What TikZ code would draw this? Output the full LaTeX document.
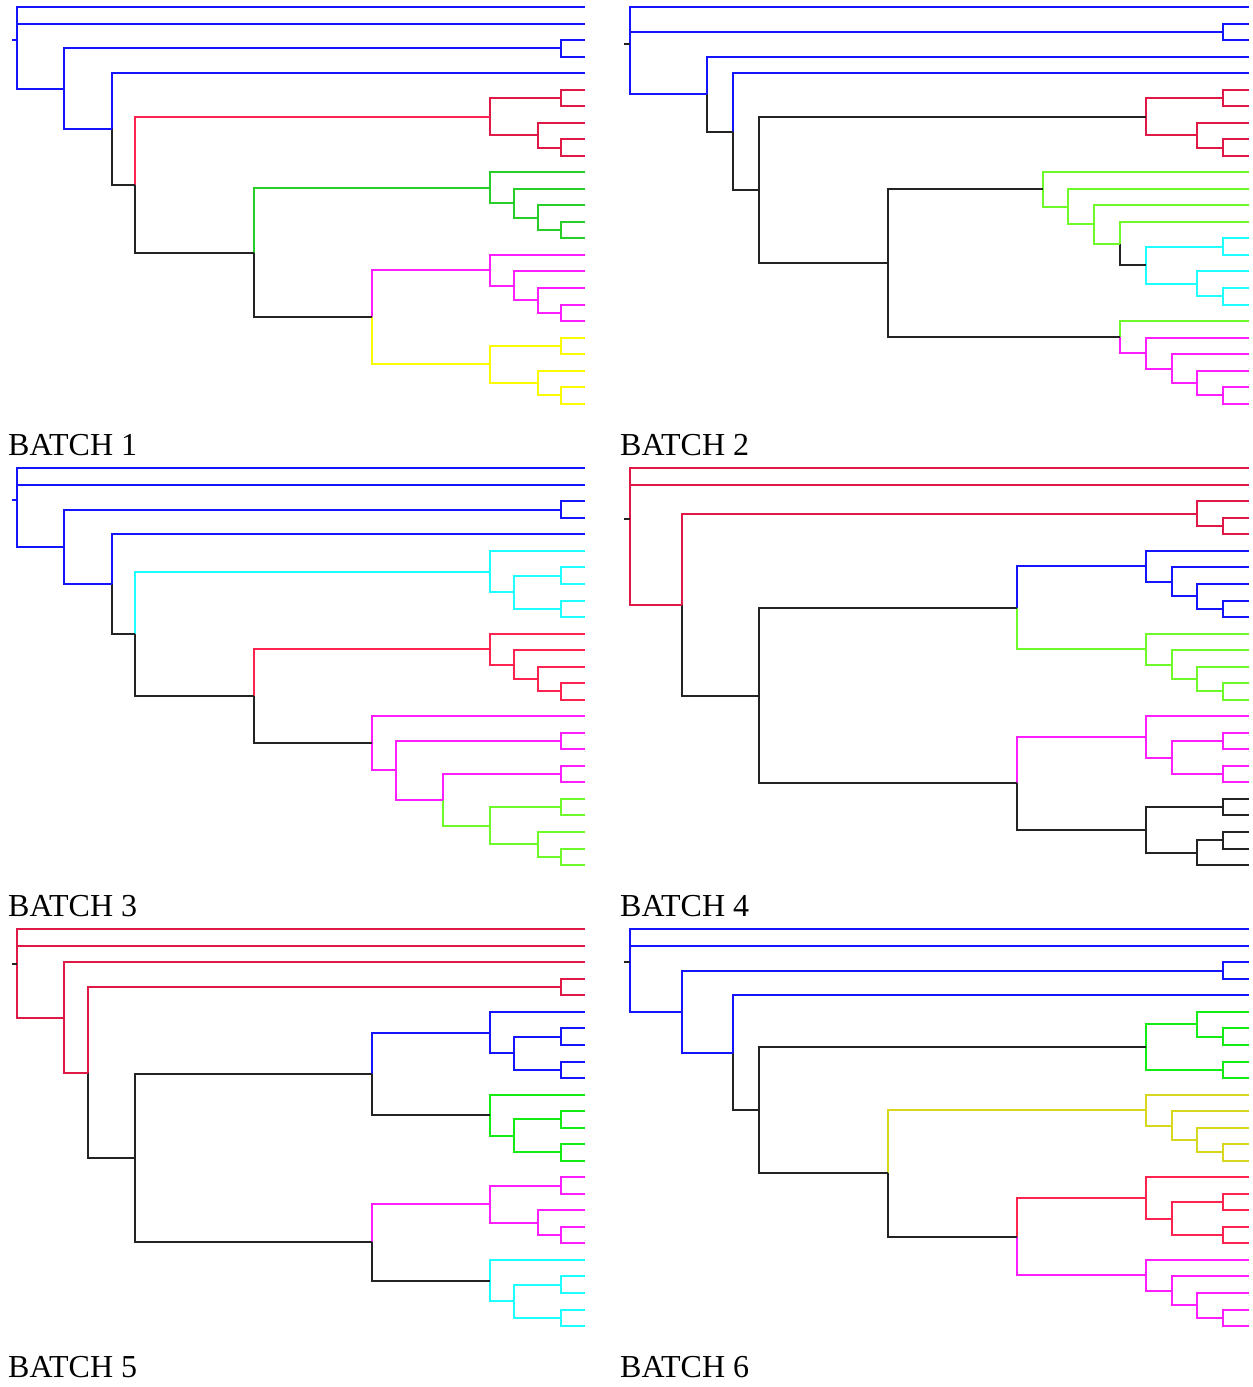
\documentclass[tikz,border=0pt]{standalone}
\usepackage{fontspec}
\setmainfont{Liberation Serif}
\usetikzlibrary{calc}

\definecolor{cBlue}{RGB}{20,20,255}
\definecolor{cRed}{RGB}{222,25,70}
\definecolor{cRedB}{RGB}{255,35,80}
\definecolor{cGreenA}{RGB}{40,205,40}
\definecolor{cLime}{RGB}{110,250,40}
\definecolor{cGreen}{RGB}{20,235,20}
\definecolor{cMag}{RGB}{255,30,255}
\definecolor{cYel}{RGB}{250,250,0}
\definecolor{cOlive}{RGB}{215,215,30}
\definecolor{cCyan}{RGB}{30,255,255}
\definecolor{cLink}{RGB}{35,35,35}

\tikzset{
  br/.style={line width=2pt},
  batchlabel/.style={anchor=base west, inner sep=0pt, font=\fontsize{32}{32}\selectfont},
}

% leaves 0..24 of one dendrogram, at height 0
\newcommand\leafrow[1]{\foreach \i in {0,...,24} {\coordinate (#1L\i) at (0,\i);}}

% merge two clusters at height #2: name, height, child A, colour A, child B, colour B
\newcommand\joinat[6]{%
  \coordinate (#1h) at (#2,0);
  \coordinate (#1m) at ($(#3)!0.5!(#5)$);
  \coordinate (#1) at (#1m -| #1h);
  \draw[br,#4] (#1) |- (#3);
  \draw[br,#6] (#1) |- (#5);
}

% short tail at the root: colour, three root children, root node
\newcommand\rootstub[5]{%
  \coordinate (#5mm) at ($(#3)!0.5!(#4)$);
  \coordinate (#5mt) at ($(#2)!2/3!(#5mm)$);
  \coordinate (#5s) at (#5mt -| #5);
  \draw[br,#1] (#5s) -- ++(0.22,0);
}

\begin{document}
\begin{tikzpicture}[x=1pt,y=-1pt]
\useasboundingbox (0,0) rectangle (1253,1387);

% ---------------- Batch 1 ----------------
\begin{scope}[shift={(585,7)}, x={(-23.667pt,0pt)}, y={(0pt,-16.53pt)}]
\leafrow{a}
\joinat{a1}{1}{aL2}{cBlue}{aL3}{cBlue}
\joinat{a2}{1}{aL5}{cRed}{aL6}{cRed}
\joinat{a3}{1}{aL8}{cRed}{aL9}{cRed}
\joinat{a4}{2}{aL7}{cRed}{a3}{cRed}
\joinat{a5}{4}{a2}{cRed}{a4}{cRed}
\joinat{a6}{1}{aL13}{cGreenA}{aL14}{cGreenA}
\joinat{a7}{2}{aL12}{cGreenA}{a6}{cGreenA}
\joinat{a8}{3}{aL11}{cGreenA}{a7}{cGreenA}
\joinat{a9}{4}{aL10}{cGreenA}{a8}{cGreenA}
\joinat{a10}{1}{aL18}{cMag}{aL19}{cMag}
\joinat{a11}{2}{aL17}{cMag}{a10}{cMag}
\joinat{a12}{3}{aL16}{cMag}{a11}{cMag}
\joinat{a13}{4}{aL15}{cMag}{a12}{cMag}
\joinat{a14}{1}{aL20}{cYel}{aL21}{cYel}
\joinat{a15}{1}{aL23}{cYel}{aL24}{cYel}
\joinat{a16}{2}{aL22}{cYel}{a15}{cYel}
\joinat{a17}{4}{a14}{cYel}{a16}{cYel}
\joinat{a18}{9}{a13}{cMag}{a17}{cYel}
\joinat{a19}{14}{a9}{cGreenA}{a18}{cLink}
\joinat{a20}{19}{a5}{cRedB}{a19}{cLink}
\joinat{a21}{20}{aL4}{cBlue}{a20}{cLink}
\joinat{a22}{22}{a1}{cBlue}{a21}{cBlue}
\joinat{a23}{24}{aL1}{cBlue}{a22}{cBlue}
\joinat{a24}{24}{aL0}{cBlue}{a23}{cBlue}
\rootstub{cBlue}{aL0}{aL1}{a22}{a24}
\end{scope}

% ---------------- Batch 2 ----------------
\begin{scope}[shift={(1249,7)}, x={(-25.79pt,0pt)}, y={(0pt,-16.53pt)}]
\leafrow{b}
\joinat{b1}{1}{bL1}{cBlue}{bL2}{cBlue}
\joinat{b2}{1}{bL5}{cRed}{bL6}{cRed}
\joinat{b3}{1}{bL8}{cRed}{bL9}{cRed}
\joinat{b4}{2}{bL7}{cRed}{b3}{cRed}
\joinat{b5}{4}{b2}{cRed}{b4}{cRed}
\joinat{b6}{1}{bL14}{cCyan}{bL15}{cCyan}
\joinat{b7}{1}{bL17}{cCyan}{bL18}{cCyan}
\joinat{b8}{2}{bL16}{cCyan}{b7}{cCyan}
\joinat{b9}{4}{b6}{cCyan}{b8}{cCyan}
\joinat{b10}{5}{bL13}{cLime}{b9}{cLink}
\joinat{b11}{6}{bL12}{cLime}{b10}{cLime}
\joinat{b12}{7}{bL11}{cLime}{b11}{cLime}
\joinat{b13}{8}{bL10}{cLime}{b12}{cLime}
\joinat{b14}{1}{bL23}{cMag}{bL24}{cMag}
\joinat{b15}{2}{bL22}{cMag}{b14}{cMag}
\joinat{b16}{3}{bL21}{cMag}{b15}{cMag}
\joinat{b17}{4}{bL20}{cMag}{b16}{cMag}
\joinat{b18}{5}{bL19}{cLime}{b17}{cMag}
\joinat{b19}{14}{b13}{cLink}{b18}{cLink}
\joinat{b20}{19}{b5}{cLink}{b19}{cLink}
\joinat{b21}{20}{bL4}{cBlue}{b20}{cLink}
\joinat{b22}{21}{bL3}{cBlue}{b21}{cLink}
\joinat{b23}{24}{b1}{cBlue}{b22}{cBlue}
\joinat{b24}{24}{bL0}{cBlue}{b23}{cBlue}
\rootstub{cLink}{bL0}{b1}{b22}{b24}
\end{scope}

% ---------------- Batch 3 ----------------
\begin{scope}[shift={(585,468.3)}, x={(-23.667pt,0pt)}, y={(0pt,-16.53pt)}]
\leafrow{c}
\joinat{c1}{1}{cL2}{cBlue}{cL3}{cBlue}
\joinat{c2}{1}{cL6}{cCyan}{cL7}{cCyan}
\joinat{c3}{1}{cL8}{cCyan}{cL9}{cCyan}
\joinat{c4}{3}{c2}{cCyan}{c3}{cCyan}
\joinat{c5}{4}{cL5}{cCyan}{c4}{cCyan}
\joinat{c6}{1}{cL13}{cRedB}{cL14}{cRedB}
\joinat{c7}{2}{cL12}{cRedB}{c6}{cRedB}
\joinat{c8}{3}{cL11}{cRedB}{c7}{cRedB}
\joinat{c9}{4}{cL10}{cRedB}{c8}{cRedB}
\joinat{c10}{1}{cL16}{cMag}{cL17}{cMag}
\joinat{c11}{1}{cL18}{cMag}{cL19}{cMag}
\joinat{c12}{1}{cL20}{cLime}{cL21}{cLime}
\joinat{c13}{1}{cL23}{cLime}{cL24}{cLime}
\joinat{c14}{2}{cL22}{cLime}{c13}{cLime}
\joinat{c15}{4}{c12}{cLime}{c14}{cLime}
\joinat{c16}{6}{c11}{cMag}{c15}{cLime}
\joinat{c17}{8}{c10}{cMag}{c16}{cMag}
\joinat{c18}{9}{cL15}{cMag}{c17}{cMag}
\joinat{c19}{14}{c9}{cRedB}{c18}{cLink}
\joinat{c20}{19}{c5}{cCyan}{c19}{cLink}
\joinat{c21}{20}{cL4}{cBlue}{c20}{cLink}
\joinat{c22}{22}{c1}{cBlue}{c21}{cBlue}
\joinat{c23}{24}{cL1}{cBlue}{c22}{cBlue}
\joinat{c24}{24}{cL0}{cBlue}{c23}{cBlue}
\rootstub{cBlue}{cL0}{cL1}{c22}{c24}
\end{scope}

% ---------------- Batch 4 ----------------
\begin{scope}[shift={(1249,468.3)}, x={(-25.79pt,0pt)}, y={(0pt,-16.53pt)}]
\leafrow{d}
\joinat{d1}{1}{dL3}{cRed}{dL4}{cRed}
\joinat{d2}{2}{dL2}{cRed}{d1}{cRed}
\joinat{d3}{1}{dL8}{cBlue}{dL9}{cBlue}
\joinat{d4}{2}{dL7}{cBlue}{d3}{cBlue}
\joinat{d5}{3}{dL6}{cBlue}{d4}{cBlue}
\joinat{d6}{4}{dL5}{cBlue}{d5}{cBlue}
\joinat{d7}{1}{dL13}{cLime}{dL14}{cLime}
\joinat{d8}{2}{dL12}{cLime}{d7}{cLime}
\joinat{d9}{3}{dL11}{cLime}{d8}{cLime}
\joinat{d10}{4}{dL10}{cLime}{d9}{cLime}
\joinat{d11}{9}{d6}{cBlue}{d10}{cLime}
\joinat{d12}{1}{dL16}{cMag}{dL17}{cMag}
\joinat{d13}{1}{dL18}{cMag}{dL19}{cMag}
\joinat{d14}{3}{d12}{cMag}{d13}{cMag}
\joinat{d15}{4}{dL15}{cMag}{d14}{cMag}
\joinat{d16}{1}{dL20}{cLink}{dL21}{cLink}
\joinat{d17}{1}{dL22}{cLink}{dL23}{cLink}
\joinat{d18}{2}{d17}{cLink}{dL24}{cLink}
\joinat{d19}{4}{d16}{cLink}{d18}{cLink}
\joinat{d20}{9}{d15}{cMag}{d19}{cLink}
\joinat{d21}{19}{d11}{cLink}{d20}{cLink}
\joinat{d22}{22}{d2}{cRed}{d21}{cLink}
\joinat{d23}{24}{dL1}{cRed}{d22}{cRed}
\joinat{d24}{24}{dL0}{cRed}{d23}{cRed}
\rootstub{cLink}{dL0}{dL1}{d22}{d24}
\end{scope}

% ---------------- Batch 5 ----------------
\begin{scope}[shift={(585,929.3)}, x={(-23.667pt,0pt)}, y={(0pt,-16.53pt)}]
\leafrow{e}
\joinat{e1}{1}{eL3}{cRed}{eL4}{cRed}
\joinat{e2}{1}{eL6}{cBlue}{eL7}{cBlue}
\joinat{e3}{1}{eL8}{cBlue}{eL9}{cBlue}
\joinat{e4}{3}{e2}{cBlue}{e3}{cBlue}
\joinat{e5}{4}{eL5}{cBlue}{e4}{cBlue}
\joinat{e6}{1}{eL11}{cGreen}{eL12}{cGreen}
\joinat{e7}{1}{eL13}{cGreen}{eL14}{cGreen}
\joinat{e8}{3}{e6}{cGreen}{e7}{cGreen}
\joinat{e9}{4}{eL10}{cGreen}{e8}{cGreen}
\joinat{e10}{9}{e5}{cBlue}{e9}{cLink}
\joinat{e11}{1}{eL15}{cMag}{eL16}{cMag}
\joinat{e12}{1}{eL18}{cMag}{eL19}{cMag}
\joinat{e13}{2}{eL17}{cMag}{e12}{cMag}
\joinat{e14}{4}{e11}{cMag}{e13}{cMag}
\joinat{e15}{1}{eL21}{cCyan}{eL22}{cCyan}
\joinat{e16}{1}{eL23}{cCyan}{eL24}{cCyan}
\joinat{e17}{3}{e15}{cCyan}{e16}{cCyan}
\joinat{e18}{4}{eL20}{cCyan}{e17}{cCyan}
\joinat{e19}{9}{e14}{cMag}{e18}{cLink}
\joinat{e20}{19}{e10}{cLink}{e19}{cLink}
\joinat{e21}{21}{e1}{cRed}{e20}{cLink}
\joinat{e22}{22}{eL2}{cRed}{e21}{cRed}
\joinat{e23}{24}{eL1}{cRed}{e22}{cRed}
\joinat{e24}{24}{eL0}{cRed}{e23}{cRed}
\rootstub{cLink}{eL0}{eL1}{e22}{e24}
\end{scope}

% ---------------- Batch 6 ----------------
\begin{scope}[shift={(1249,929.3)}, x={(-25.79pt,0pt)}, y={(0pt,-16.53pt)}]
\leafrow{f}
\joinat{f1}{1}{fL2}{cBlue}{fL3}{cBlue}
\joinat{f2}{1}{fL6}{cGreen}{fL7}{cGreen}
\joinat{f3}{2}{fL5}{cGreen}{f2}{cGreen}
\joinat{f4}{1}{fL8}{cGreen}{fL9}{cGreen}
\joinat{f5}{4}{f3}{cGreen}{f4}{cGreen}
\joinat{f6}{1}{fL13}{cOlive}{fL14}{cOlive}
\joinat{f7}{2}{fL12}{cOlive}{f6}{cOlive}
\joinat{f8}{3}{fL11}{cOlive}{f7}{cOlive}
\joinat{f9}{4}{fL10}{cOlive}{f8}{cOlive}
\joinat{f10}{1}{fL16}{cRedB}{fL17}{cRedB}
\joinat{f11}{1}{fL18}{cRedB}{fL19}{cRedB}
\joinat{f12}{3}{f10}{cRedB}{f11}{cRedB}
\joinat{f13}{4}{fL15}{cRedB}{f12}{cRedB}
\joinat{f14}{1}{fL23}{cMag}{fL24}{cMag}
\joinat{f15}{2}{fL22}{cMag}{f14}{cMag}
\joinat{f16}{3}{fL21}{cMag}{f15}{cMag}
\joinat{f17}{4}{fL20}{cMag}{f16}{cMag}
\joinat{f18}{9}{f13}{cRedB}{f17}{cMag}
\joinat{f19}{14}{f9}{cOlive}{f18}{cLink}
\joinat{f20}{19}{f5}{cLink}{f19}{cLink}
\joinat{f21}{20}{fL4}{cBlue}{f20}{cLink}
\joinat{f22}{22}{f1}{cBlue}{f21}{cBlue}
\joinat{f23}{24}{fL1}{cBlue}{f22}{cBlue}
\joinat{f24}{24}{fL0}{cBlue}{f23}{cBlue}
\rootstub{cLink}{fL0}{fL1}{f22}{f24}
\end{scope}

% ---------------- captions ----------------
\node[batchlabel] (t1) at (8,455) {BATCH 1};
\node[batchlabel] (t2) at (620,455) {BATCH 2};
\node[batchlabel] (t3) at (8,916) {BATCH 3};
\node[batchlabel] (t4) at (620,916) {BATCH 4};
\node[batchlabel] (t5) at (8,1377) {BATCH 5};
\node[batchlabel] (t6) at (620,1377) {BATCH 6};
\end{tikzpicture}
\end{document}
